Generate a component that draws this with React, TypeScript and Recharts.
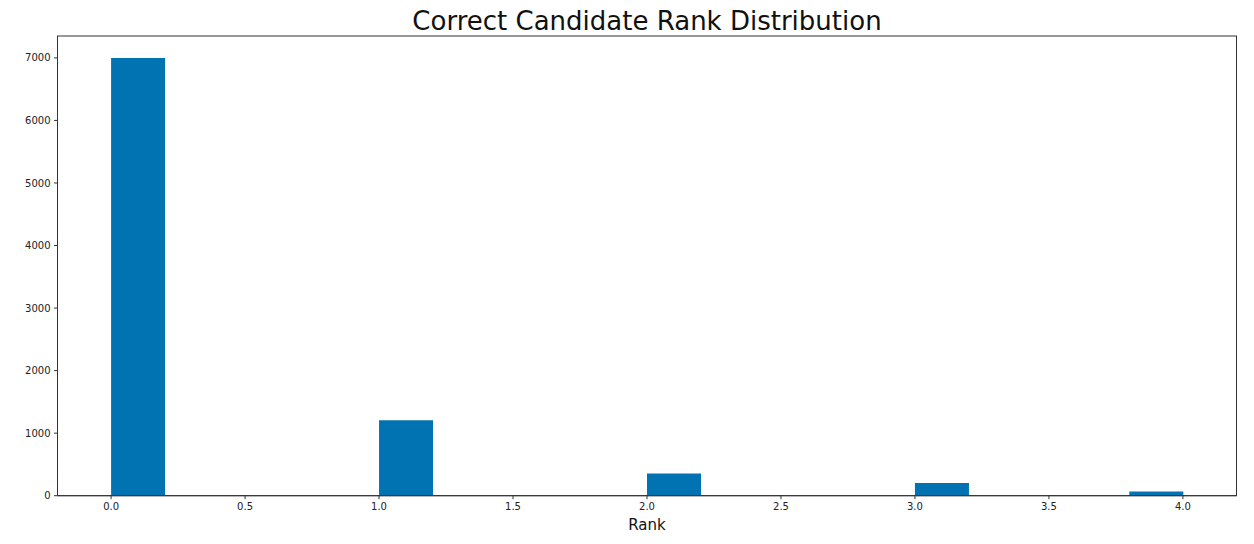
import { ComposedChart, Bar, XAxis, YAxis } from "recharts";

// histogram bins (centre of each 0.2-wide bin) and counts
const binCenters = [
  0.1, 0.3, 0.5, 0.7, 0.9, 1.1, 1.3, 1.5, 1.7, 1.9,
  2.1, 2.3, 2.5, 2.7, 2.9, 3.1, 3.3, 3.5, 3.7, 3.9,
];
const counts = [
  7000, 0, 0, 0, 0, 1205, 0, 0, 0, 0,
  355, 0, 0, 0, 0, 205, 0, 0, 0, 68,
];
const xTicks = [0, 0.5, 1, 1.5, 2, 2.5, 3, 3.5, 4];
const yTicks = [0, 1000, 2000, 3000, 4000, 5000, 6000, 7000];

const data = binCenters.map((x, i) => ({ x, count: counts[i] }));

const W = 1254;
const H = 544;
const LEFT = 57.5;
const RIGHT = 17.5;
const TOP = 36;
const BOTTOM = 48.3;
const X_DOMAIN: [number, number] = [-0.2, 4.2];
const plotW = W - LEFT - RIGHT;
const plotH = H - TOP - BOTTOM;

const font = "'DejaVu Sans', sans-serif";
const axisColor = "#333";
const tickStyle = { fontSize: 10, fill: "#222", fontFamily: font };

export default function App() {
  return (
    <div style={{ position: "absolute", left: 0, top: 0, width: W, height: H, background: "#fff" }}>
      <ComposedChart
        width={W}
        height={H}
        data={data}
        margin={{ top: TOP, right: RIGHT, left: 0, bottom: BOTTOM - 30 }}
        barCategoryGap={0}
        barGap={0}
      >
        <XAxis
          dataKey="x"
          type="number"
          domain={X_DOMAIN}
          ticks={xTicks}
          tickFormatter={(v: number) => v.toFixed(1)}
          height={30}
          tick={tickStyle}
          tickSize={3.5}
          tickMargin={3.5}
          axisLine={{ stroke: axisColor }}
          tickLine={{ stroke: axisColor }}
          allowDataOverflow
        />
        <YAxis
          domain={[0, 7350]}
          ticks={yTicks}
          width={LEFT}
          tick={tickStyle}
          tickSize={3.5}
          tickMargin={3.5}
          axisLine={{ stroke: axisColor }}
          tickLine={{ stroke: axisColor }}
          allowDataOverflow
        />
        <Bar dataKey="count" fill="#0173b2" isAnimationActive={false} />
      </ComposedChart>
      <svg
        width={W}
        height={H}
        style={{ position: "absolute", left: 0, top: 0, pointerEvents: "none" }}
      >
        <rect x={LEFT} y={TOP} width={plotW} height={plotH} fill="none" stroke={axisColor} />
        <text x={LEFT + plotW / 2} y={30} textAnchor="middle" fontSize={26} fontFamily={font} fill="#111">
          Correct Candidate Rank Distribution
        </text>
        <text x={LEFT + plotW / 2} y={530} textAnchor="middle" fontSize={15} fontFamily={font} fill="#111">
          Rank
        </text>
      </svg>
    </div>
  );
}
